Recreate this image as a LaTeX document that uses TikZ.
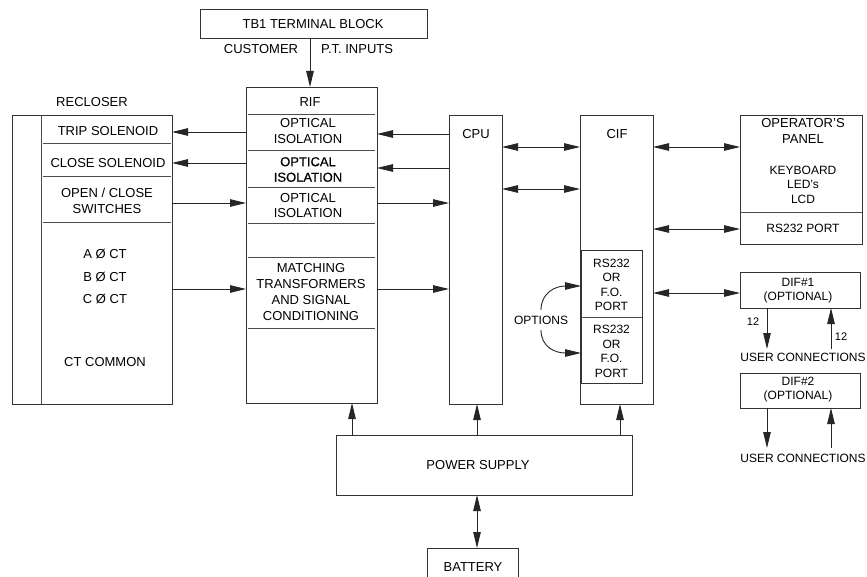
\documentclass[tikz,border=0pt]{standalone}
\usepackage{fontspec}
\setmainfont{Liberation Sans}
\newfontface\fakebold{Liberation Sans}[FakeBold=0.5]
\usetikzlibrary{arrows.meta}
\newcommand\fnt{\fontsize{13}{15.5}\selectfont}
\newcommand\fns{\fontsize{12}{14.5}\selectfont}
\begin{document}
\begin{tikzpicture}[x=1pt,y=-1pt,
  box/.style={draw=black!80, line width=0.9pt, inner sep=0, outer sep=0, anchor=north west},
  lbl/.style={font=\fnt, align=center, inner sep=0pt, text=black},
  slbl/.style={font=\fns, align=center, inner sep=0pt, text=black},
  sep/.style={draw=black!70, line width=0.9pt},
  arr/.style={draw=black!85, line width=0.9pt, -{Triangle[length=16pt,width=7.5pt]}},
  darr/.style={draw=black!85, line width=0.9pt, {Triangle[length=16pt,width=7.5pt]}-{Triangle[length=16pt,width=7.5pt]}}]
\useasboundingbox (0,0) rectangle (867,577);
% boxes
\node[box, minimum width=227, minimum height=29] (tb) at (200,9) {};
\node[box, minimum width=131, minimum height=316] (rif) at (246,87) {};
\node[box, minimum width=160, minimum height=289] (rec) at (12,115) {};
\node[box, minimum width=53, minimum height=289] (cpu) at (449,115) {};
\node[box, minimum width=73, minimum height=289] (cif) at (580,115) {};
\node[box, minimum width=122, minimum height=129] (op) at (740,115) {};
\node[box, minimum width=61, minimum height=133] (port) at (581,250) {};
\node[box, minimum width=120, minimum height=36] (dif1) at (740,272) {};
\node[box, minimum width=120, minimum height=35] (dif2) at (740,373) {};
\node[box, minimum width=296, minimum height=60] (ps) at (336,435) {};
\node[inner sep=0, outer sep=0, anchor=north west, minimum width=91, minimum height=29] (bat) at (427,548) {};
\draw[draw=black!80, line width=0.9pt] (bat.south west) -- (bat.north west) -- (bat.north east) -- (bat.south east);
% internal separators
\foreach \yy in {114,150,187,223,257,328} \draw[sep] (248,\yy) -- (375,\yy);
\draw[sep] (41,115) -- (41,404);
\foreach \yy in {143,176,222} \draw[sep] (43,\yy) -- (171,\yy);
\draw[sep] (740,212) -- (862,212);
\draw[sep] (581,317) -- (642,317);
% texts
\node[lbl] (tbt) at (313,24) {TB1 TERMINAL BLOCK};
\node[lbl] (cust) at (261,49) {CUSTOMER};
\node[lbl] (pt) at (357,49) {P.T. INPUTS};
\node[lbl] (rect) at (92,102) {RECLOSER};
\node[lbl] (trip) at (108,131) {TRIP SOLENOID};
\node[lbl] (close) at (108,163) {CLOSE SOLENOID};
\node[lbl] (oc) at (107,201) {OPEN / CLOSE\\SWITCHES};
\node[lbl] (act) at (105,254) {A Ø CT};
\node[lbl] (bct) at (105,277) {B Ø CT};
\node[lbl] (cct) at (105,299) {C Ø CT};
\node[lbl] (ctc) at (105,362) {CT COMMON};
\node[lbl] (rift) at (310,102) {RIF};
\node[lbl] (o1) at (308,131) {OPTICAL\\ISOLATION};
\node[lbl, font=\fnt\fakebold] (o2) at (308,169.5) {OPTICAL\\ISOLATION};
\node[lbl] (o3) at (308,205.5) {OPTICAL\\ISOLATION};
\node[lbl, font=\fontsize{13}{16}\selectfont] (mt) at (311,292) {MATCHING\\TRANSFORMERS\\AND SIGNAL\\CONDITIONING};
\node[lbl] (cput) at (476,134) {CPU};
\node[lbl] (cift) at (617,134) {CIF};
\node[lbl, font=\fontsize{13}{16}\selectfont] (opt) at (803,131) {OPERATOR'S\\PANEL};
\node[slbl] (kb) at (803,184.5) {KEYBOARD\\LED's\\LCD};
\node[slbl] (rsp) at (803,228) {RS232 PORT};
\node[slbl] (p1) at (611.5,285) {RS232\\OR\\F.O.\\PORT};
\node[slbl] (p2) at (611.5,351.5) {RS232\\OR\\F.O.\\PORT};
\node[slbl] (opts) at (541,320) {OPTIONS};
\node[slbl, font=\fontsize{12}{14}\selectfont] (d1t) at (798,291) {DIF\#1\\(OPTIONAL)};
\node[slbl, font=\fontsize{12}{14}\selectfont] (d2t) at (798,390) {DIF\#2\\(OPTIONAL)};
\node[slbl, font=\fontsize{11}{13}\selectfont] (n12a) at (753,322) {12};
\node[slbl, font=\fontsize{11}{13}\selectfont] (n12b) at (841,337) {12};
\node[slbl] (uc1) at (803,357) {USER CONNECTIONS};
\node[slbl] (uc2) at (803,458) {USER CONNECTIONS};
\node[lbl] (pst) at (478,465) {POWER SUPPLY};
\node[lbl] (batt) at (473,567) {BATTERY};
% connectors
\draw[arr] (tb.south -| 310,0) -- (rif.north -| 310,0);
\draw[arr] (rif.west |- 0,132) -- (rec.east |- 0,132);
\draw[arr] (rif.west |- 0,163) -- (rec.east |- 0,163);
\draw[arr] (rec.east |- 0,203) -- (rif.west |- 0,203);
\draw[arr] (rec.east |- 0,289) -- (rif.west |- 0,289);
\draw[arr] (cpu.west |- 0,134) -- (rif.east |- 0,134);
\draw[arr] (cpu.west |- 0,168) -- (rif.east |- 0,168);
\draw[arr] (rif.east |- 0,203) -- (cpu.west |- 0,203);
\draw[arr] (rif.east |- 0,289) -- (cpu.west |- 0,289);
\draw[darr] (cpu.east |- 0,147) -- (cif.west |- 0,147);
\draw[darr] (cpu.east |- 0,189) -- (cif.west |- 0,189);
\draw[darr] (cif.east |- 0,147) -- (op.west |- 0,147);
\draw[darr] (cif.east |- 0,229) -- (op.west |- 0,229);
\draw[darr] (cif.east |- 0,293) -- (dif1.west |- 0,293);
\draw[arr] (541,310) .. controls (541,293) and (555,286) .. (port.west |- 0,286);
\draw[arr] (541,330) .. controls (541,347) and (555,353) .. (port.west |- 0,353);
\draw[arr] (dif1.south -| 767,0) -- (767,349);
\draw[arr] (831,349) -- (dif1.south -| 831,0);
\draw[arr] (dif2.south -| 767,0) -- (767,448);
\draw[arr] (831,448) -- (dif2.south -| 831,0);
\draw[arr] (ps.north -| 352,0) -- (rif.south -| 352,0);
\draw[arr] (ps.north -| 477,0) -- (cpu.south -| 477,0);
\draw[arr] (ps.north -| 620,0) -- (cif.south -| 620,0);
\draw[darr] (ps.south -| 477,0) -- (bat.north -| 477,0);
\end{tikzpicture}
\end{document}
